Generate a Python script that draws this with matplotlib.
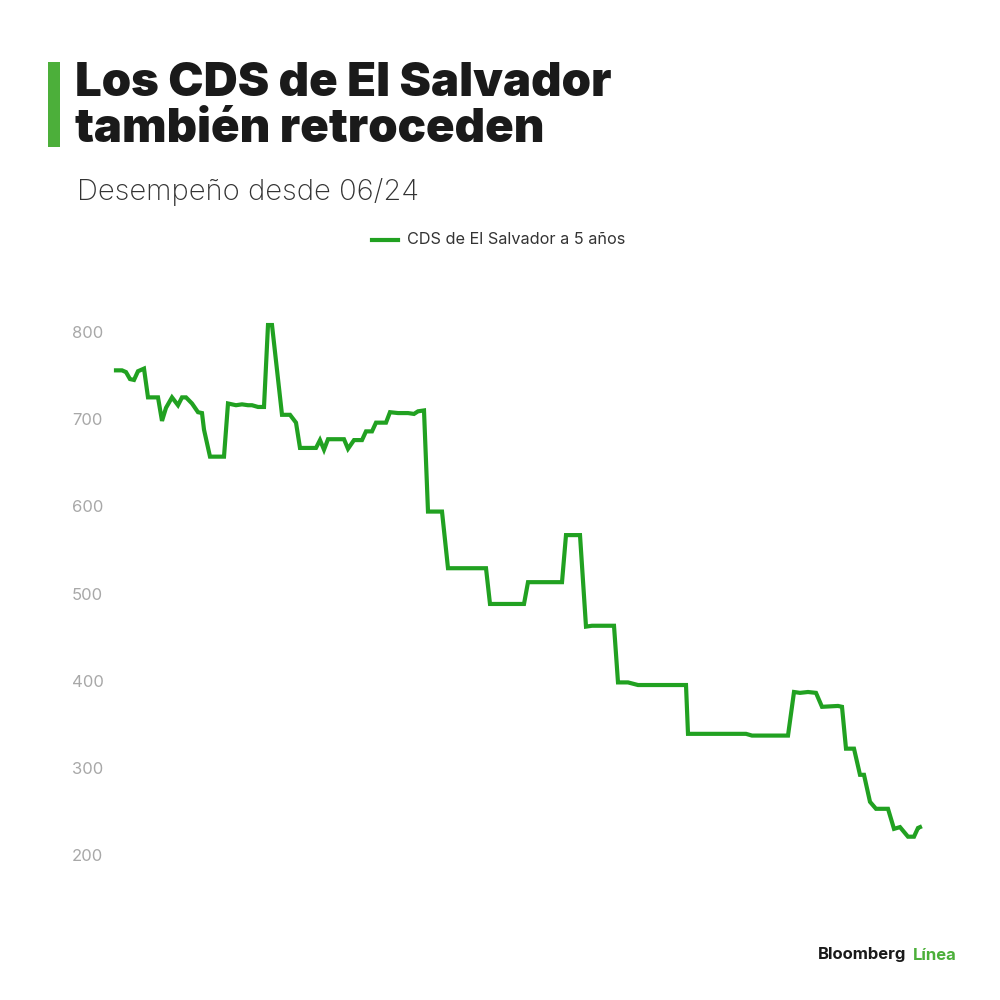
import matplotlib.pyplot as plt
from matplotlib.patches import Rectangle
from matplotlib.lines import Line2D

# days since start of 06/24 (approx.) and 5y CDS level (bps)
dias = [0, 3, 5, 7, 9, 11, 14, 16, 21, 23, 25, 28, 31, 33, 35, 38, 41, 43, 44, 47,
		54, 56, 60, 63, 66, 68, 71, 74, 76, 78, 83, 87, 90, 92, 100, 102, 104, 106,
		114, 116, 119, 123, 125, 128, 130, 135, 137, 141, 146, 149, 151, 154, 156,
		163, 166, 185, 187, 204, 206, 223, 225, 232, 235, 238, 249, 251, 256, 261,
		285, 286, 315, 318, 336, 339, 342, 346, 350, 353, 361, 363, 365, 369, 372,
		374, 377, 380, 386, 389, 392, 396, 399, 401, 402]
cds = [756, 756, 754, 746, 745, 755, 758, 725, 725, 698, 713, 725, 716, 725, 725, 718,
	   708, 707, 688, 657, 657, 718, 716, 717, 716, 716, 714, 714, 808, 808, 705, 705,
	   696, 667, 667, 676, 665, 677, 677, 666, 676, 676, 686, 686, 696, 696, 708, 707,
	   707, 706, 709, 710, 594, 594, 529, 529, 488, 488, 513, 513, 567, 567, 462, 463,
	   463, 398, 398, 395, 395, 339, 339, 337, 337, 387, 386, 387, 386, 370, 371, 370,
	   322, 322, 292, 292, 261, 253, 253, 230, 232, 221, 221, 231, 232]
yticks = [200, 300, 400, 500, 600, 700, 800]

titulo = "Los CDS de El Salvador\ntambién retroceden"
subtitulo = "Desempeño desde 06/24"
serie = "CDS de El Salvador a 5 años"

verde = "#21a121"
plt.rcParams['font.family'] = ['Inter', 'DejaVu Sans']

fig = plt.figure(figsize=(10, 10), dpi=100)
fig.patch.set_facecolor("white")

# plot area: x 116..920 px, y 855 (200) .. 332 (800)
ax = fig.add_axes([0.116, 0.145, 0.804, 0.523])
ax.plot(dias, cds, color=verde, lw=3.0, solid_joinstyle="miter", clip_on=False)
ax.set_xlim(0, 402)
ax.set_ylim(200, 800)
ax.set_yticks(yticks)
ax.set_yticklabels([str(v) for v in yticks])
ax.set_xticks([])
for s in ax.spines.values():
	s.set_visible(False)
ax.tick_params(axis="y", length=0, pad=0, labelsize=12, labelcolor="#a8a8a8")
for lab in ax.get_yticklabels():
	lab.set_horizontalalignment("left")
	lab.set_x(-0.055)

# title block
fig.patches.append(Rectangle((0.048, 0.853), 0.012, 0.085, transform=fig.transFigure,
							 color="#4caf3a", lw=0))
fig.text(0.075, 0.938, titulo, fontsize=34, fontweight=900, color="#1a1a1a",
		 va="top", ha="left", linespacing=1.06)
fig.text(0.077, 0.808, subtitulo, fontsize=21, fontweight="light", color="#333333",
		 va="center", ha="left")

# legend
fig.lines.append(Line2D([0.372, 0.398], [0.760, 0.760], transform=fig.transFigure,
						color=verde, lw=3.0))
fig.text(0.407, 0.760, serie, fontsize=11.7, color="#333333", va="center", ha="left")

# logo
t1 = fig.text(0.818, 0.045, "Bloomberg", fontsize=12, fontweight="bold", color="#1a1a1a",
			  va="center", ha="left")
fig.canvas.draw()
bb = t1.get_window_extent()
fig.text(bb.x1 / 1000 + 0.006, 0.045, "Línea", fontsize=12, fontweight="bold",
		 color="#4caf3a", va="center", ha="left")

fig.savefig("out.png", dpi=100, facecolor="white")
